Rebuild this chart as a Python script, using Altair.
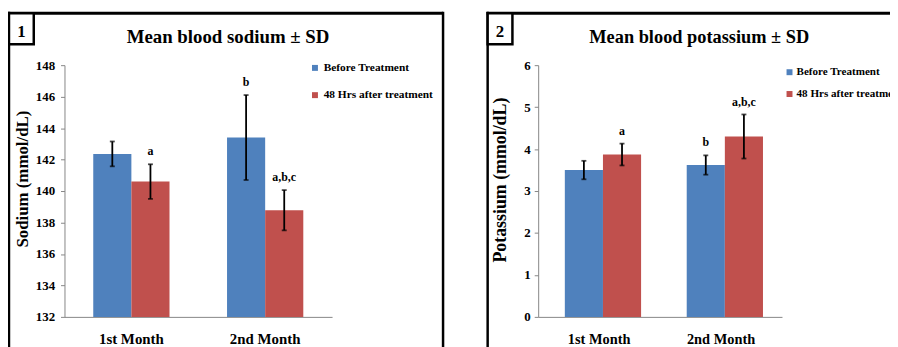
import altair as alt
import pandas as pd

MONTHS = ["1st Month", "2nd Month"]
SERIES = ["Before Treatment", "48 Hrs after treatment"]
COLORS = ["#4F81BD", "#C0504D"]

SODIUM_BEFORE = [142.36, 143.4]
SODIUM_BEFORE_SD = [0.79, 2.7]
SODIUM_AFTER = [140.6, 138.78]
SODIUM_AFTER_SD = [1.1, 1.28]
SODIUM_BEFORE_LABELS = ["", "b"]
SODIUM_AFTER_LABELS = ["a", "a,b,c"]
SODIUM_TICKS = [132, 134, 136, 138, 140, 142, 144, 146, 148]

POTASSIUM_BEFORE = [3.50, 3.62]
POTASSIUM_BEFORE_SD = [0.22, 0.23]
POTASSIUM_AFTER = [3.87, 4.30]
POTASSIUM_AFTER_SD = [0.26, 0.525]
POTASSIUM_BEFORE_LABELS = ["", "b"]
POTASSIUM_AFTER_LABELS = ["a", "a,b,c"]
POTASSIUM_TICKS = [0, 1, 2, 3, 4, 5, 6]

FONT = "Liberation Serif"
GRAY = "#868686"


def make_df(before, before_sd, after, after_sd, lab_b, lab_a):
    rows = []
    for i, m in enumerate(MONTHS):
        rows.append({"Month": m, "Series": SERIES[0], "Mean": before[i], "SD": before_sd[i], "Label": lab_b[i]})
        rows.append({"Month": m, "Series": SERIES[1], "Mean": after[i], "SD": after_sd[i], "Label": lab_a[i]})
    df = pd.DataFrame(rows)
    df["Lo"] = df["Mean"] - df["SD"]
    df["Hi"] = df["Mean"] + df["SD"]
    return df


def panel(df, ticks, ytitle, title, number, c):
    xscale = alt.Scale(domain=MONTHS, paddingInner=c["pi"], paddingOuter=c["po"])
    base = alt.Chart(df).encode(
        x=alt.X("Month:N", sort=MONTHS, scale=xscale,
                axis=alt.Axis(title=None, labelAngle=0, ticks=False, tickSize=0,
                              labelFont=FONT, labelFontWeight="bold", labelFontSize=c["xfs"],
                              labelColor="black", labelBaseline="alphabetic", labelPadding=27,
                              domainColor=GRAY, domainWidth=1)),
        xOffset=alt.XOffset("Series:N", sort=SERIES,
                            scale=alt.Scale(domain=SERIES, paddingInner=0, paddingOuter=0)),
    )
    yscale = alt.Scale(domain=[ticks[0], ticks[-1]], nice=False, zero=False)
    yaxis = alt.Axis(values=ticks, tickCount=len(ticks), title=ytitle, grid=False, format="d",
                     labelOverlap=False,
                     labelFont=FONT, labelFontWeight="bold", labelFontSize=13,
                     labelColor="black", labelPadding=c["lp"],
                     tickSize=4, tickColor=GRAY, domainColor=GRAY,
                     titleFont=FONT, titleFontWeight="bold", titleFontSize=c["tfs"],
                     titleColor="black", titleAngle=270, titleAlign="center",
                     titleBaseline="alphabetic", titleX=c["tx"], titleY=c["ty"])
    bars = base.mark_bar().encode(
        y=alt.Y("Mean:Q", scale=yscale, axis=yaxis),
        y2=alt.datum(ticks[0]),
        color=alt.Color("Series:N", sort=SERIES, scale=alt.Scale(domain=SERIES, range=COLORS),
                        legend=alt.Legend(title=None, orient="none", legendX=c["lx"], legendY=c["ly"],
                                          symbolType="square", symbolSize=36, symbolStrokeWidth=0,
                                          labelFont=FONT, labelFontWeight="bold", labelFontSize=c["lfs"],
                                          labelColor="black", labelOffset=c["lo"], rowPadding=c["rp"],
                                          padding=0, labelLimit=300)),
    )
    err = base.mark_rule(color="black", strokeWidth=1.8).encode(
        y=alt.Y("Lo:Q", scale=yscale, axis=yaxis), y2="Hi:Q")
    cap_lo = base.mark_tick(color="black", thickness=1.8, size=5).encode(
        y=alt.Y("Lo:Q", scale=yscale, axis=yaxis))
    cap_hi = base.mark_tick(color="black", thickness=1.8, size=5).encode(
        y=alt.Y("Hi:Q", scale=yscale, axis=yaxis))
    notes = base.transform_filter(alt.datum.Label != "").mark_text(
        font=FONT, fontWeight="bold", fontSize=12, dy=-13, color="black"
    ).encode(y=alt.Y("Hi:Q", scale=yscale, axis=yaxis), text="Label:N")

    dec = alt.Chart(pd.DataFrame({"d": [0]}))
    top = dec.mark_rule(color="black", strokeWidth=3).encode(
        x=alt.value(c["fl"] - 1), x2=alt.value(c["fr"]), y=alt.value(-52.5))
    left = dec.mark_rule(color="black", strokeWidth=2.5).encode(
        x=alt.value(c["fl"]), y=alt.value(-54), y2=alt.value(300))
    right = dec.mark_rule(color="black", strokeWidth=2.5).encode(
        x=alt.value(c["fr"]), y=alt.value(-54), y2=alt.value(300))
    box = dec.mark_rect(fill="white", stroke="black", strokeWidth=2.5).encode(
        x=alt.value(c["fl"]), x2=alt.value(c["fl"] + 25), y=alt.value(-52.5), y2=alt.value(-21))
    num = dec.mark_text(text=number, font=FONT, fontWeight="bold", fontSize=17,
                        align="center", baseline="alphabetic", color="black").encode(
        x=alt.value(c["fl"] + 12.5), y=alt.value(-28))
    ttl = dec.mark_text(text=title, font=FONT, fontWeight="bold", fontSize=c["ttfs"],
                        align="center", baseline="alphabetic", color="black").encode(
        x=alt.value(c["tcx"]), y=alt.value(-22.3))
    layers = [bars, err, cap_lo, cap_hi, notes, top, left, right, box, num, ttl]
    return alt.layer(*layers).properties(width=c["w"], height=254)


sodium = make_df(SODIUM_BEFORE, SODIUM_BEFORE_SD, SODIUM_AFTER, SODIUM_AFTER_SD,
                 SODIUM_BEFORE_LABELS, SODIUM_AFTER_LABELS)
potassium = make_df(POTASSIUM_BEFORE, POTASSIUM_BEFORE_SD, POTASSIUM_AFTER, POTASSIUM_AFTER_SD,
                    POTASSIUM_BEFORE_LABELS, POTASSIUM_AFTER_LABELS)

left_cfg = dict(w=270, pi=0.43, po=0.215, xfs=15, lp=6, tfs=17, tx=-37.5, ty=114.5,
                lx=247, ly=-3, rp=14.5, lfs=11.5, lo=3, fl=-56, fr=382, tcx=165, ttfs=19)
right_cfg = dict(w=246, pi=0.437, po=0.2185, xfs=14.5, lp=4, tfs=18, tx=-33, ty=115.5,
                 lx=248, ly=1.5, rp=10, lfs=11.2, lo=1.5, fl=-51, fr=380, tcx=162.5, ttfs=18.5)

p1 = panel(sodium, SODIUM_TICKS, "Sodium (mmol/dL)", "Mean blood sodium ± SD", "1", left_cfg)
p2 = panel(potassium, POTASSIUM_TICKS, "Potassium (mmol/dL)", "Mean blood potassium ± SD", "2", right_cfg)

chart = alt.hconcat(p1, p2, spacing=208, bounds="flush").resolve_scale(
    color="independent", y="independent", x="independent"
).resolve_legend(color="independent").properties(
    autosize=alt.AutoSizeParams(type="none"),
    padding={"left": 57, "top": 55, "right": 833, "bottom": 284},
    background="white",
).configure_view(stroke=None)

chart.save("out.html", embed_options={"renderer": "svg", "actions": False})
